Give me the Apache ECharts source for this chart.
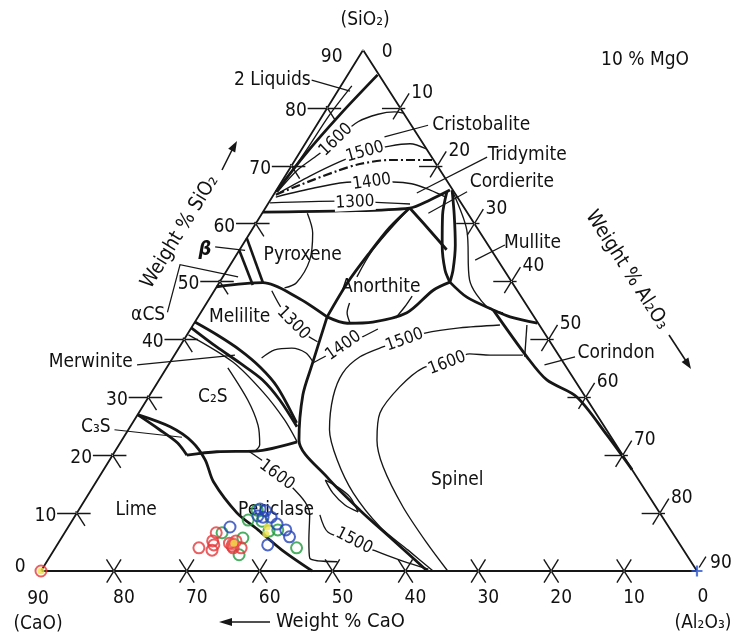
<!DOCTYPE html>
<html>
<head>
<meta charset="utf-8">
<title>CaO-Al2O3-SiO2 at 10 % MgO</title>
<script src="https://cdn.jsdelivr.net/npm/echarts@6/dist/echarts.min.js"></script>
<style>
  html, body { margin: 0; padding: 0; background: #fff; }
  #chart { width: 734px; height: 635px; }
</style>
</head>
<body>
<div id="chart"></div>
<script>
// every point is a composition [CaO, SiO2] in weight %, Al2O3 = 90 - CaO - SiO2 (10 % MgO section)
const INK = '#161616';
const TXT = '#111111';
const FONT = "'DejaVu Sans Condensed','Liberation Sans Narrow','DejaVu Sans',sans-serif";
const SKEW = 0.491; // printed triangle leans a little to the left

const tickVals = [10, 20, 30, 40, 50, 60, 70, 80];
const leftTickLabels = [0, 10, 20, 30, 40, 50, 60, 70, 80, 90];
const bottomTickLabels = [90, 80, 70, 60, 50, 40, 30, 20, 10, 0];
const rightTickLabels = [10, 20, 30, 40, 50, 60, 70, 80, 90];

const triangle = [[90, 0], [0, 90], [0, 0], [90, 0]];

// heavy field boundaries
const twoLiqBoundary = [[0.2, 85.7], [8.9, 78.8], [17.2, 71.9], [24.4, 65.5]];
const tridymitePyroxene = [[28.0, 62.0], [17.3, 62.2], [7.5, 62.7], [4.0, 64.1], [0.4, 65.8]];
const pyroxeneAnorthite = [[7.5, 62.7], [12.0, 59.3], [16.8, 55.1], [22.6, 49.8], [28.4, 43.9]];
const anorthiteTop = [[7.5, 62.7], [6.8, 59.3], [6.1, 55.5]];
const cordieriteLeft = [[0.9, 65.6], [3.6, 61.5], [6.3, 56.3], [8.1, 52.0], [8.5, 49.9]];
const cordieriteRight = [[0.1, 65.8], [2.0, 61.5], [4.5, 56.3], [7.0, 52.0], [8.5, 49.9]];
const anorthiteBottom = [[8.5, 49.9], [11.5, 48.5], [17.1, 44.6], [22.6, 43.0], [26.2, 42.8], [28.4, 43.9]];
const mulliteSpinel = [[8.5, 49.9], [7.5, 47.3], [5.0, 45.1], [3.3, 43.9], [0.1, 42.8]];
const spinelCorundum = [[5.0, 45.1], [4.5, 37.0], [3.8, 33.0], [1.2, 30.1], [0.4, 23.5], [0.0, 17.5]];
const periclaseSpinel = [[28.4, 43.9], [34.7, 35.6], [38.6, 30.4], [43.1, 22.6], [42.5, 16.2], [40.9, 10.5], [39.0, 5.4], [37.0, 0]];
const meliliteTop = [[40.9, 49.1], [34.2, 49.8], [30.8, 47.3], [28.4, 43.9]];
const merwiniteUpper = [[47.0, 43.0], [45.1, 40.8], [43.3, 38.2], [42.0, 35.2], [41.4, 31.8], [41.9, 25.6]];
const merwiniteLower = [[48.0, 42.0], [46.2, 38.7], [44.4, 35.9], [42.8, 33.0], [42.2, 29.5], [42.2, 24.9]];
const c3sUpper = [[63.0, 27.0], [61.3, 24.4], [60.0, 22.1], [59.8, 20.0]];
const c2sPericlase = [[59.8, 20.0], [55.4, 20.6], [50.1, 20.7], [43.5, 22.3]];
const limeBoundary = [[63.0, 27.0], [59.6, 24.9], [57.9, 22.3], [57.7, 19.2], [58.5, 15.4], [58.0, 10.0], [56.6, 7.1], [55.1, 3.6], [52.8, 0]];
const csBeta = [[32.5, 57.5], [34.2, 49.8]];
const csAlpha = [[34.6, 55.4], [35.8, 49.4]];

// thin lines: isotherms and minor boundaries
const twoLiqThin = [[4.7, 83.8], [10.3, 78.8], [16.9, 72.4], [23.5, 66.2]];
const iso1600Upper = [[24.2, 65.5], [19.5, 69.3], [15.4, 71.9], [11.2, 74.8], [7.0, 77.6], [3.6, 78.9], [1.1, 79.3], [0, 79.1]];
const iso1500Upper = [[24.5, 65.1], [18.4, 68.2], [13.0, 70.7], [8.7, 72.4], [4.8, 73.4], [1.8, 73.8], [0, 72.9]];
const cristobaliteTridymite = [[24.7, 65.0], [20.5, 66.7], [14.2, 69.1], [10.5, 70.3], [6.0, 71.0], [0, 71.0]];
const iso1400Upper = [[24.9, 64.6], [18.7, 66.2], [13.1, 67.2], [7.5, 67.2], [5.1, 66.9], [3.1, 65.8], [1.6, 64.6]];
const iso1300Upper = [[26.2, 63.6], [16.7, 63.9], [7.1, 63.4]];
const iso1300Pyroxene = [[22.0, 61.8], [23.0, 58.4], [25.8, 53.7], [29.6, 49.8], [31.7, 48.9]];
const anorthiteThin = [[7.9, 62.4], [16.2, 55.5], [20.8, 50.8]];
const anorthiteArcL = [[24.1, 46.3], [25.3, 44.6], [25.8, 42.8]];
const anorthiteArcR = [[14.9, 47.5], [16.9, 45.6], [19.1, 43.7]];
const mulliteThin = [[0.2, 65.3], [1.6, 58.9], [5.6, 50.3], [5.6, 45.6], [3.9, 44.6]];
const corundumThin = [[1.7, 42.5], [4.8, 37.0]];
const iso1300Lower = [[33.7, 48.4], [33.9, 45.1], [33.3, 41.6], [31.9, 39.6]];
const iso1400Lower = [[34.5, 35.9], [32.1, 37.1], [28.7, 38.9], [25.4, 40.4], [22.5, 41.8]];
const iso1500Mid = [[5.4, 42.5], [11.2, 42.0], [16.4, 41.1], [19.8, 39.9], [23.4, 38.7], [27.4, 37.0], [31.2, 34.2], [34.6, 30.1], [38.0, 24.4], [39.6, 19.2], [40.3, 13.5], [39.6, 7.6], [37.8, 3.6], [36.2, 0]];
const iso1600Spinel = [[4.9, 37.3], [9.4, 37.3], [12.1, 37.5], [16.0, 35.9], [19.7, 35.1], [24.6, 31.8], [29.6, 27.3], [32.4, 22.6], [33.9, 18.0], [34.7, 11.1], [34.6, 4.8], [34.2, 0]];
const meliliteArc = [[41.0, 36.8], [38.5, 38.2], [36.0, 38.5], [34.5, 37.7], [34.3, 36.1]];
const meliliteThin = [[41.2, 43.4], [43.1, 38.2]];
const c2sThinA = [[49.0, 40.8], [45.3, 36.1], [43.8, 30.9], [43.3, 26.1], [43.5, 22.3]];
const c2sThinB = [[46.5, 35.1], [46.6, 29.5], [47.4, 25.2], [48.9, 21.8], [50.1, 20.7]];
const iso1600Periclase = [[50.9, 20.6], [49.5, 18.3], [48.3, 14.9], [47.7, 11.9], [48.2, 9.7], [50.5, 5.4], [52.0, 2.2], [48.5, 1.6]];
const iso1500Periclase = [[46.8, 9.7], [47.2, 6.7], [44.4, 5.2], [42.4, 3.5], [39.5, 1.7], [36.7, 0.3]];
const lensUpper = [[43.0, 15.7], [41.9, 14.5], [41.1, 12.8], [41.3, 10.2]];
const lensLower = [[43.0, 15.7], [43.1, 13.5], [42.5, 11.4], [41.3, 10.2]];

// leader lines from the field names
const leaders = [
  [[9.7, 84.8], [5.4, 82.9]],
  [[-2.3, 77.0], [4.7, 75.0]],
  [[-7.6, 71.5], [5.2, 65.3]],
  [[-1.8, 65.5], [5.4, 61.8]],
  [[-2.3, 56.3], [3.1, 53.7]],
  [[-2.1, 37.0], [2.8, 35.6]],
  [[58.7, 35.6], [44.4, 37.3]],
  [[67.5, 24.4], [58.9, 23.1]],
  [[49.9, 44.7], [44.0, 52.9], [37.1, 50.8]],
  [[37.6, 56.0], [33.8, 55.4]]
];

const fieldNames = ['2 Liquids', 'Cristobalite', 'Tridymite', 'Cordierite', 'Mullite', 'Corindon', 'Spinel', 'Anorthite', 'Pyroxene', 'Melilite', 'C\u2082S', 'Lime', 'Periclase', 'Merwinite', 'C\u2083S', '\u03b1CS', '\u03b2'];
const fieldAt = [[15.1, 84.8], [-9.6, 77.0], [-13.3, 71.9], [-8.8, 67.2], [-6.3, 56.7], [-8.1, 37.7], [24.9, 15.7], [18.4, 49.1], [26.3, 54.6], [40.4, 43.9], [51.1, 30.1], [71.6, 10.5], [52.4, 10.5], [64.8, 36.1], [69.8, 24.9], [52.8, 44.2], [39.3, 55.4]];

const isoText = ['1600', '1500', '1400', '1300', '1300', '1400', '1500', '1600', '1600', '1500'];
const isoAt = [[11.6, 74.5], [8.7, 72.4], [10.4, 67.2], [14.5, 63.7], [33.6, 42.8], [28.7, 38.9], [19.8, 39.9], [16.0, 35.9], [49.2, 16.6], [44.4, 5.2]];
const isoRot = [44, 16, 8, 3, -45, 35, 20, 21, -37, -27];

// measured slags
const redPts = [[66.3, 4.0], [64.7, 3.6], [63.8, 5.2], [62.6, 6.6], [64.0, 4.5], [61.7, 4.8], [61.6, 4.3], [60.6, 5.2], [61.6, 4.0], [60.5, 4.0], [90, 0]];
const redFilled = [[61.3, 4.7]];
const bluePts = [[60.2, 7.6], [54.5, 10.7], [54.8, 9.3], [53.7, 9.3], [53.9, 10.4], [53.5, 8.1], [52.8, 7.1], [52.9, 5.9], [56.6, 4.5], [55.4, 9.5]];
const greenPts = [[61.8, 6.6], [57.1, 8.8], [59.4, 5.7], [61.4, 2.8], [55.0, 10.5], [55.2, 6.9], [53.9, 7.1], [52.9, 4.0], [55.3, 8.6]];
const yellowPts = [[55.1, 7.6], [55.9, 6.4], [61.1, 4.8], [90, 0]];
const bluePlus = [[0, 0]];

function xy(p) {
  const a = 90 - p[0] - p[1];
  return [a + SKEW * p[1], p[1]];
}

function curve(pts, width, smooth, dash) {
  return {
    type: 'line', data: pts.map(xy), showSymbol: false, symbol: 'none',
    smooth: smooth, silent: true, animation: false, z: 3,
    lineStyle: { width: width, color: INK, type: dash || 'solid' }
  };
}

const heavy = [twoLiqBoundary, tridymitePyroxene, pyroxeneAnorthite, anorthiteTop, cordieriteLeft,
  cordieriteRight, anorthiteBottom, mulliteSpinel, spinelCorundum, periclaseSpinel, meliliteTop,
  merwiniteUpper, merwiniteLower, c3sUpper, c2sPericlase, limeBoundary];
const straightHeavy = [csBeta, csAlpha];
const thin = [twoLiqThin, iso1600Upper, iso1500Upper, iso1400Upper, iso1300Upper, iso1300Pyroxene,
  anorthiteThin, anorthiteArcL, anorthiteArcR, mulliteThin, iso1300Lower, iso1400Lower, iso1500Mid,
  iso1600Spinel, meliliteArc, c2sThinA, c2sThinB, iso1600Periclase, iso1500Periclase, lensUpper, lensLower];

// tick crosses on the three sides
const tickSegs = [];
tickVals.forEach(function (v) {
  tickSegs.push([[v, -2], [v, 2]], [[v + 2, -2], [v - 2, 2]]);
  tickSegs.push([[90 - v + 2.7, v], [90 - v - 1.9, v]], [[90 - v, v + 0.3], [90 - v, v - 2.2]]);
  const s = 90 - v;
  tickSegs.push([[2.5, s], [-0.7, s]], [[-2.5, s + 2.5], [2, s - 2]]);
});
tickSegs.push([[-2.5, 2.5], [-0.6, 0.6]]);

const tickLabelData = [];
leftTickLabels.forEach(function (v) {
  tickLabelData.push({
    name: String(v), value: xy([90 - v, v]),
    label: { position: 'left', distance: v === 0 ? 15 : 20, offset: [0, v === 90 ? 7 : (v === 0 ? -4 : 3)] }
  });
});
bottomTickLabels.forEach(function (v) {
  tickLabelData.push({
    name: String(v), value: xy([v, 0]),
    label: { position: 'inside', offset: v === 90 ? [-3, 28] : (v === 0 ? [6, 26] : [10, 27]) }
  });
});
rightTickLabels.forEach(function (v) {
  tickLabelData.push({
    name: String(v), value: xy([0, 90 - v]),
    label: { position: 'inside', offset: v === 90 ? [24, -8] : [22, -15] }
  });
});
tickLabelData.push({ name: '0', value: xy([0, 90]), label: { position: 'inside', offset: [24, 2] } });
tickLabelData.push({ name: '(SiO\u2082)', value: xy([0, 90]), label: { position: 'inside', offset: [2, -30] } });
tickLabelData.push({ name: '(CaO)', value: xy([90, 0]), label: { position: 'inside', offset: [-3, 53] } });
tickLabelData.push({ name: '(Al\u2082O\u2083)', value: xy([0, 0]), label: { position: 'inside', offset: [6, 52] } });

const series = [];
series.push(curve(triangle, 1.8, false));
heavy.forEach(function (c) { series.push(curve(c, 2.8, 0.3)); });
straightHeavy.forEach(function (c) { series.push(curve(c, 2.6, false)); });
thin.forEach(function (c) { series.push(curve(c, 1.35, 0.3)); });
series.push(curve(cristobaliteTridymite, 2.2, 0.3, [9, 3, 2, 3]));
series.push(curve(corundumThin, 1.35, false));

series.push({
  type: 'lines', coordinateSystem: 'cartesian2d', silent: true, animation: false, z: 3,
  data: tickSegs.map(function (s) { return { coords: s.map(xy) }; }),
  lineStyle: { color: INK, width: 1.4, opacity: 1 }
});
series.push({
  type: 'lines', coordinateSystem: 'cartesian2d', polyline: true, silent: true, animation: false, z: 3,
  data: leaders.map(function (s) { return { coords: s.map(xy) }; }),
  lineStyle: { color: INK, width: 1.2, opacity: 1 }
});

// text carried by invisible points so it sits in composition space
function textLayer(data, size, extraLabel) {
  return {
    type: 'scatter', symbol: 'circle', symbolSize: 1, silent: true, animation: false, z: 4,
    itemStyle: { color: '#ffffff', opacity: 1 },
    label: Object.assign({
      show: true, position: 'inside', formatter: '{b}', color: TXT, opacity: 1,
      textBorderWidth: 0, fontFamily: FONT, fontSize: size
    }, extraLabel || {}),
    data: data
  };
}

series.push(textLayer(fieldNames.map(function (n, i) {
  const d = { name: n, value: xy(fieldAt[i]) };
  if (n === '\u03b2') d.label = { fontStyle: 'italic', fontWeight: 'bold', fontSize: 20 };
  return d;
}), 19));
series.push(textLayer(isoText.map(function (t, i) {
  return { name: t, value: xy(isoAt[i]), label: { rotate: isoRot[i] } };
}), 17, { backgroundColor: '#fff', padding: [0, 1] }));
series.push(textLayer(tickLabelData, 19));

function ring(pts, color) {
  return {
    type: 'scatter', data: pts.map(xy), symbol: 'circle', symbolSize: 11, silent: true,
    animation: false, z: 5,
    itemStyle: { color: 'rgba(255,255,255,0)', borderColor: color, borderWidth: 2 }
  };
}
series.push(ring(greenPts, '#1f9a3c'));
series.push(ring(bluePts, '#2444b8'));
series.push(ring(redPts, '#e5383b'));
series.push({
  type: 'scatter', data: redFilled.map(xy), symbolSize: 13, silent: true, animation: false, z: 5,
  itemStyle: { color: '#e8514f' }
});
series.push({
  type: 'scatter', data: yellowPts.map(xy), symbolSize: 7, silent: true, animation: false, z: 6,
  itemStyle: { color: '#f2e24a' }
});
series.push({
  type: 'scatter', data: bluePlus.map(xy), symbol: 'path://M4,0H6V4H10V6H6V10H4V6H0V4H4Z',
  symbolSize: 11, silent: true, animation: false, z: 6, itemStyle: { color: '#2a55d0' }
});

const option = {
  backgroundColor: '#fff',
  animation: false,
  grid: { left: 0, right: 0, top: 0, bottom: 0 },
  xAxis: { type: 'value', min: -5.625, max: 95.08, show: false },
  yAxis: { type: 'value', min: -11.06, max: 98.64, show: false },
  graphic: [
    { type: 'text', x: 645, y: 60, style: { text: '10 % MgO', font: '19px ' + FONT, fill: TXT, textAlign: 'center', textVerticalAlign: 'middle' } },
    { type: 'text', x: 276, y: 622, style: { text: 'Weight % CaO', font: '20px ' + FONT, fill: TXT, textAlign: 'left', textVerticalAlign: 'middle' } },
    { type: 'line', shape: { x1: 270, y1: 622, x2: 228, y2: 622 }, style: { stroke: INK, lineWidth: 1.6 } },
    { type: 'polygon', shape: { points: [[219, 622], [232, 618], [232, 626]] }, style: { fill: INK } },
    { type: 'text', x: 180, y: 232, rotation: 1.017, style: { text: 'Weight % SiO\u2082', font: '20px ' + FONT, fill: TXT, textAlign: 'center', textVerticalAlign: 'middle' } },
    { type: 'line', shape: { x1: 222, y1: 170, x2: 232, y2: 150 }, style: { stroke: INK, lineWidth: 1.6 } },
    { type: 'polygon', shape: { points: [[237, 141], [235.2, 152.5], [228.2, 148.7]] }, style: { fill: INK } },
    { type: 'text', x: 627, y: 270, rotation: -1.0, style: { text: 'Weight % Al\u2082O\u2083', font: '20px ' + FONT, fill: TXT, textAlign: 'center', textVerticalAlign: 'middle' } },
    { type: 'line', shape: { x1: 669, y1: 335, x2: 686, y2: 361 }, style: { stroke: INK, lineWidth: 1.6 } },
    { type: 'polygon', shape: { points: [[691, 369], [681.6, 362], [688.4, 357.6]] }, style: { fill: INK } }
  ],
  series: series
};

const chart = echarts.init(document.getElementById('chart'));
chart.setOption(option);
window.addEventListener('resize', function () { chart.resize(); });
</script>
</body>
</html>
